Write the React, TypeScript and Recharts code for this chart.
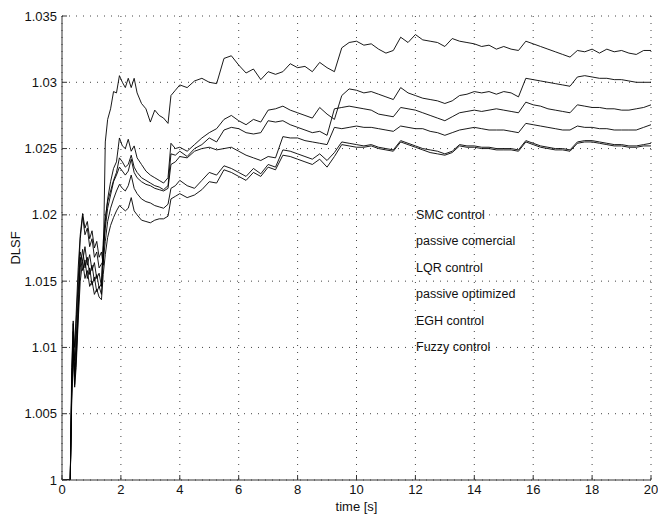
import React from 'react';
import { LineChart, Line, XAxis, YAxis, CartesianGrid, Legend } from 'recharts';

const time = [
  0, 0.28, 0.33, 0.38, 0.43, 0.48, 0.55, 0.62, 0.7, 0.78, 0.86, 0.94, 1.02, 1.1, 1.18, 1.26, 1.34,
  1.4, 1.47, 1.55, 1.65, 1.75, 1.85, 1.95, 2.05, 2.15, 2.25, 2.35, 2.45, 2.55, 2.7, 2.85, 3.0, 3.15, 3.3, 3.45, 3.6, 3.7, 3.85, 4.0,
  4.25, 4.5, 4.75, 5, 5.25, 5.5, 5.75, 6, 6.25, 6.5, 6.75, 7, 7.25, 7.5, 7.75, 8,
  8.25, 8.5, 8.75, 9, 9.25, 9.5, 9.75, 10, 10.25, 10.5, 10.75, 11, 11.25, 11.5, 11.75, 12,
  12.25, 12.5, 12.75, 13, 13.25, 13.5, 13.75, 14, 14.25, 14.5, 14.75, 15, 15.25, 15.5, 15.75, 16,
  16.25, 16.5, 16.75, 17, 17.25, 17.5, 17.75, 18, 18.25, 18.5, 18.75, 19, 19.25, 19.5, 19.75, 20,
];

const smcControl = [
  1.0, 1.0, 1.0085, 1.012, 1.01, 1.0125, 1.016, 1.0185, 1.0201, 1.019, 1.0195, 1.0182, 1.0188, 1.0175, 1.018, 1.0168, 1.0172,
  1.0162, 1.0255, 1.0272, 1.028, 1.0293, 1.0292, 1.0305, 1.03, 1.0296, 1.0303, 1.0296, 1.0303, 1.0292, 1.0284, 1.028, 1.027, 1.0279, 1.0275, 1.0273, 1.0269, 1.029, 1.0294, 1.0298,
  1.0296, 1.0301, 1.0303, 1.03, 1.0299, 1.0318, 1.032, 1.0313, 1.0307, 1.031, 1.0302, 1.0308, 1.0306, 1.0308, 1.0314, 1.0311,
  1.0312, 1.0308, 1.0315, 1.0311, 1.0308, 1.0326, 1.033, 1.0331, 1.0328, 1.0329, 1.0325, 1.0322, 1.0324, 1.0334, 1.033, 1.0336,
  1.0332, 1.0331, 1.033, 1.0327, 1.0333, 1.0331, 1.033, 1.0329, 1.0327, 1.0328, 1.0325, 1.0327, 1.0325, 1.0324, 1.0331, 1.0329,
  1.0327, 1.0325, 1.0323, 1.0321, 1.0319, 1.0324, 1.0323, 1.0325, 1.0322, 1.0325, 1.0323, 1.0324, 1.0322, 1.0321, 1.0324, 1.0324,
];

const passiveComercial = [
  1.0, 1.0, 1.007, 1.0112, 1.009, 1.0118, 1.015, 1.0182, 1.0199, 1.0185, 1.019, 1.0176, 1.0182, 1.0168, 1.0172, 1.016, 1.0163,
  1.0165, 1.0195, 1.0212, 1.0225, 1.0235, 1.024, 1.0258, 1.0252, 1.025, 1.0257, 1.0248, 1.0252, 1.0243, 1.0238, 1.0233, 1.023, 1.0228, 1.0226, 1.0224, 1.0228, 1.0254, 1.025, 1.0251,
  1.0248, 1.0253, 1.0258, 1.0262, 1.0265, 1.0272, 1.0275, 1.0271, 1.0268, 1.0272, 1.027, 1.0279, 1.028, 1.0282, 1.0279, 1.0277,
  1.0275, 1.0273, 1.0281, 1.0276, 1.0272, 1.029, 1.0295, 1.0294, 1.0292, 1.0293, 1.0291, 1.0289, 1.0287, 1.0296, 1.0292, 1.029,
  1.0288, 1.0287, 1.0286, 1.0284, 1.0286, 1.029, 1.0291, 1.0293, 1.0292, 1.0293, 1.0291, 1.0293, 1.0292, 1.0289, 1.0303, 1.0302,
  1.0301, 1.03, 1.0299, 1.0298, 1.0297, 1.0304, 1.0305, 1.0304, 1.0303, 1.0303, 1.0302, 1.0302, 1.0301, 1.03, 1.03, 1.03,
];

const lqrControl = [
  1.0, 1.0, 1.0075, 1.0118, 1.0082, 1.0105, 1.014, 1.0172, 1.0165, 1.0176, 1.0162, 1.017, 1.0158, 1.0164, 1.0152, 1.0156, 1.0146,
  1.018, 1.0198, 1.021, 1.0218, 1.0226, 1.0232, 1.0243, 1.024, 1.0236, 1.0238, 1.0245, 1.0236, 1.0232, 1.0228, 1.0226, 1.0224, 1.0222, 1.0221, 1.0219, 1.0222, 1.0246, 1.0245, 1.0248,
  1.0244, 1.025, 1.0253, 1.0258, 1.0255, 1.0264, 1.0266, 1.0265, 1.0262, 1.0261, 1.0262, 1.0271, 1.027, 1.0271, 1.0268, 1.0266,
  1.0264, 1.0262, 1.0263, 1.026, 1.028, 1.0281, 1.0282, 1.0281, 1.028, 1.0279, 1.0276, 1.0275, 1.0274, 1.0281, 1.028, 1.0279,
  1.0277, 1.0275, 1.0273, 1.0271, 1.0274, 1.0277, 1.0278, 1.0279, 1.0278, 1.0279, 1.028, 1.0279, 1.0278, 1.0277, 1.0285, 1.0283,
  1.0282, 1.028, 1.0279, 1.0278, 1.0277, 1.0283, 1.0282, 1.0281, 1.0281, 1.028, 1.028, 1.0279, 1.0279, 1.028, 1.0281, 1.0283,
];

const passiveOptimized = [
  1.0, 1.0, 1.0068, 1.0105, 1.0078, 1.0095, 1.013, 1.016, 1.0174, 1.016, 1.0168, 1.0155, 1.0162, 1.015, 1.0155, 1.0145, 1.0148,
  1.0175, 1.019, 1.0205, 1.0215, 1.0225, 1.023, 1.0236, 1.0233, 1.023, 1.0233, 1.0242, 1.0232, 1.0228, 1.0225, 1.0223, 1.0222, 1.022, 1.0219, 1.0218, 1.022, 1.0238, 1.024, 1.0244,
  1.0243, 1.0248, 1.025, 1.0251, 1.0249, 1.025, 1.0251, 1.0248, 1.0245, 1.0243, 1.0241, 1.0244, 1.0243, 1.0259, 1.0258, 1.0258,
  1.0256, 1.0255, 1.0254, 1.0253, 1.0266, 1.0265, 1.0266, 1.0267, 1.0266, 1.0266, 1.0265, 1.0264, 1.0263, 1.0267, 1.0266, 1.0265,
  1.0265, 1.0263, 1.0262, 1.026, 1.0262, 1.0264, 1.0265, 1.0266, 1.0265, 1.0264, 1.0264, 1.0264, 1.0263, 1.0262, 1.0269, 1.0268,
  1.0267, 1.0266, 1.0265, 1.0264, 1.0264, 1.0267, 1.0266, 1.0266, 1.0265, 1.0265, 1.0264, 1.0264, 1.0264, 1.0264, 1.0266, 1.0268,
];

const eghControl = [
  1.0, 1.0, 1.0065, 1.01, 1.0072, 1.009, 1.0125, 1.0168, 1.0158, 1.0166, 1.0152, 1.016, 1.0147, 1.0153, 1.0142, 1.0146, 1.014,
  1.0165, 1.018, 1.0195, 1.0205, 1.0212, 1.0218, 1.0223, 1.022, 1.0218, 1.0222, 1.023, 1.022, 1.0216, 1.0212, 1.021, 1.0209, 1.0207, 1.0206, 1.0205, 1.0208, 1.022, 1.0222, 1.0226,
  1.0222, 1.022, 1.0226, 1.0232, 1.023, 1.0237, 1.0235, 1.0232, 1.0229, 1.0235, 1.0231, 1.0238, 1.0236, 1.0249, 1.0248, 1.0246,
  1.0244, 1.0242, 1.0246, 1.0241, 1.0247, 1.0255, 1.0254, 1.0253, 1.0252, 1.0253, 1.0251, 1.025, 1.0249, 1.0256, 1.0254, 1.0252,
  1.025, 1.0249, 1.0248, 1.0246, 1.0248, 1.0253, 1.0252, 1.0252, 1.0251, 1.0251, 1.025, 1.025, 1.025, 1.0249, 1.0256, 1.0254,
  1.0252, 1.0251, 1.025, 1.025, 1.0249, 1.0255, 1.0256, 1.0256, 1.0255, 1.0254, 1.0253, 1.0253, 1.0252, 1.0252, 1.0253, 1.0254,
];

const fuzzyControl = [
  1.0, 1.0, 1.006, 1.0095, 1.007, 1.0085, 1.012, 1.015, 1.0165, 1.0152, 1.0158, 1.0146, 1.015, 1.014, 1.0144, 1.0138, 1.0136,
  1.0155, 1.017, 1.0183, 1.0192, 1.0198, 1.0203, 1.0207, 1.0205, 1.0203, 1.0205, 1.0213, 1.0203, 1.02, 1.0196, 1.0195, 1.0194, 1.0196, 1.0197, 1.0197, 1.0199, 1.0212, 1.0214, 1.0216,
  1.0213, 1.0215, 1.0219, 1.0225, 1.0224, 1.0234, 1.0232, 1.0229, 1.0226, 1.0232, 1.0229, 1.0236, 1.0234, 1.0245, 1.0244, 1.0242,
  1.024, 1.0238, 1.0242, 1.0236, 1.0244, 1.0253, 1.0252, 1.0251, 1.0251, 1.0252, 1.025, 1.0249, 1.0248, 1.0255, 1.0253, 1.0251,
  1.0249, 1.0247, 1.0246, 1.0245, 1.0247, 1.0252, 1.0251, 1.0251, 1.025, 1.025, 1.0249, 1.0249, 1.0249, 1.0248, 1.0255, 1.0253,
  1.0251, 1.025, 1.0249, 1.0249, 1.0248, 1.0254, 1.0255, 1.0255, 1.0254, 1.0253, 1.0252, 1.0252, 1.0251, 1.0251, 1.0252, 1.0252,
];

const seriesNames = ['SMC control', 'passive comercial', 'LQR control', 'passive optimized', 'EGH control', 'Fuzzy control'];
const seriesKeys = ['smc', 'pcom', 'lqr', 'popt', 'egh', 'fuzzy'];
const seriesValues = [smcControl, passiveComercial, lqrControl, passiveOptimized, eghControl, fuzzyControl];

const xTicks = [0, 2, 4, 6, 8, 10, 12, 14, 16, 18, 20];
const yTicks = [1, 1.005, 1.01, 1.015, 1.02, 1.025, 1.03, 1.035];
const yTickLabels = ['1', '1.005', '1.01', '1.015', '1.02', '1.025', '1.03', '1.035'];

const data = time.map((t, i) => {
  const row: Record<string, number> = { t };
  seriesKeys.forEach((k, j) => {
    row[k] = seriesValues[j][i];
  });
  return row;
});

const FONT = '"Liberation Sans", Arial, Helvetica, sans-serif';
const AXIS = '#333';

const LegendText = (props: any) => {
  const payload = [...(props.payload || [])].sort(
    (a: any, b: any) => seriesNames.indexOf(a.value) - seriesNames.indexOf(b.value)
  );
  return (
    <div style={{ fontFamily: FONT, fontSize: 12.5, color: '#111' }}>
      {payload.map((p: any) => (
        <div key={p.value} style={{ height: 26.4, lineHeight: '26.4px', whiteSpace: 'nowrap' }}>
          {p.value}
        </div>
      ))}
    </div>
  );
};

export default function App() {
  return (
    <div style={{ position: 'absolute', left: 0, top: 0, width: 658, height: 515, background: '#fff' }}>
      <LineChart
        width={658}
        height={515}
        data={data}
        margin={{ top: 16, right: 7, bottom: 0, left: 0 }}
        style={{ fontFamily: FONT }}
      >
        <CartesianGrid stroke="#444" strokeDasharray="1 6" strokeWidth={1} />
        <XAxis
          dataKey="t"
          type="number"
          domain={[0, 20]}
          ticks={xTicks}
          height={35}
          stroke={AXIS}
          tickSize={-5}
          tickMargin={10}
          tick={{ fill: '#111', fontSize: 13, fontFamily: FONT }}
          label={{ value: 'time [s]', position: 'insideBottom', offset: 4, fill: '#111', fontSize: 13, fontFamily: FONT }}
          allowDataOverflow
        />
        <XAxis
          xAxisId="top"
          orientation="top"
          type="number"
          domain={[0, 20]}
          ticks={xTicks}
          height={0}
          stroke={AXIS}
          tickSize={-5}
          tick={false}
          allowDataOverflow
        />
        <YAxis
          type="number"
          domain={[1, 1.035]}
          ticks={yTicks}
          width={62}
          stroke={AXIS}
          tickSize={-5}
          tickMargin={10}
          tickFormatter={(v: number) => yTickLabels[yTicks.indexOf(v)] ?? String(v)}
          tick={{ fill: '#111', fontSize: 13, fontFamily: FONT }}
          label={{ value: 'DLSF', angle: -90, position: 'center', dx: -16, fill: '#111', fontSize: 13, fontFamily: FONT }}
          allowDataOverflow
        />
        <YAxis
          yAxisId="right"
          orientation="right"
          type="number"
          domain={[1, 1.035]}
          ticks={yTicks}
          width={0}
          stroke={AXIS}
          tickSize={-5}
          tick={false}
          allowDataOverflow
        />
        <Legend
          layout="vertical"
          align="center"
          verticalAlign="middle"
          content={<LegendText />}
          wrapperStyle={{ left: 416, top: 202, width: 200, height: 160 }}
        />
        {seriesKeys.map((k, j) => (
          <Line
            key={k}
            dataKey={k}
            name={seriesNames[j]}
            type="linear"
            stroke="#000"
            strokeWidth={0.9}
            dot={false}
            activeDot={false}
            isAnimationActive={false}
          />
        ))}
      </LineChart>
    </div>
  );
}
